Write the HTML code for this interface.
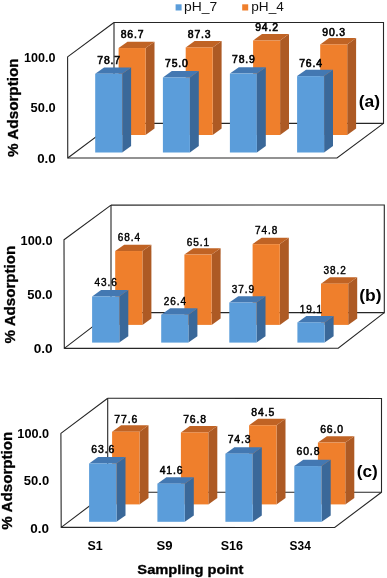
<!DOCTYPE html>
<html><head><meta charset="utf-8"><style>
html,body{margin:0;padding:0;background:#fff;}
body{width:387px;height:578px;overflow:hidden;}
svg{will-change:transform;display:block;font-family:"Liberation Sans",sans-serif;}
</style></head><body>
<svg width="387" height="578" viewBox="0 0 387 578">
<rect width="387" height="578" fill="#fff"/>
<polyline points="114,123.4 114,22.45" fill="none" stroke="#262626" stroke-width="1.1"/>
<polyline points="114,22.45 383.5,22.5 383.5,123.4 114,123.4" fill="none" stroke="#262626" stroke-width="1.1"/>
<polyline points="114,22.45 67.6,56.9 67.75,158 114,123.4" fill="none" stroke="#262626" stroke-width="1.1" stroke-linejoin="round"/>
<polyline points="67.75,158 337,158 383.5,123.4" fill="none" stroke="#262626" stroke-width="1.1"/>
<polygon points="145.6,48.04 154.5,41.64 154.5,128.6 145.6,135" fill="#ad5a24"/>
<polygon points="118.6,48.04 127.5,41.64 154.5,41.64 145.6,48.04" fill="#c06324"/>
<rect x="118.6" y="48.04" width="27" height="86.96" fill="#ef7f2c"/>
<polygon points="212.7,47.44 221.6,41.04 221.6,128.6 212.7,135" fill="#ad5a24"/>
<polygon points="185.7,47.44 194.6,41.04 221.6,41.04 212.7,47.44" fill="#c06324"/>
<rect x="185.7" y="47.44" width="27" height="87.56" fill="#ef7f2c"/>
<polygon points="280.1,40.52 289,34.12 289,128.6 280.1,135" fill="#ad5a24"/>
<polygon points="253.1,40.52 262,34.12 289,34.12 280.1,40.52" fill="#c06324"/>
<rect x="253.1" y="40.52" width="27" height="94.48" fill="#ef7f2c"/>
<polygon points="347.2,44.43 356.1,38.03 356.1,128.6 347.2,135" fill="#ad5a24"/>
<polygon points="320.2,44.43 329.1,38.03 356.1,38.03 347.2,44.43" fill="#c06324"/>
<rect x="320.2" y="44.43" width="27" height="90.57" fill="#ef7f2c"/>
<polygon points="122.2,73.8 131.1,67.4 131.1,146.1 122.2,152.5" fill="#3a6899"/>
<polygon points="95.2,73.8 104.1,67.4 131.1,67.4 122.2,73.8" fill="#4378b2"/>
<rect x="95.2" y="73.8" width="27" height="78.7" fill="#5b9dda"/>
<polygon points="189.9,77.5 198.8,71.1 198.8,146.1 189.9,152.5" fill="#3a6899"/>
<polygon points="162.9,77.5 171.8,71.1 198.8,71.1 189.9,77.5" fill="#4378b2"/>
<rect x="162.9" y="77.5" width="27" height="75" fill="#5b9dda"/>
<polygon points="256.9,73.6 265.8,67.2 265.8,146.1 256.9,152.5" fill="#3a6899"/>
<polygon points="229.9,73.6 238.8,67.2 265.8,67.2 256.9,73.6" fill="#4378b2"/>
<rect x="229.9" y="73.6" width="27" height="78.9" fill="#5b9dda"/>
<polygon points="324.1,76.1 333,69.7 333,146.1 324.1,152.5" fill="#3a6899"/>
<polygon points="297.1,76.1 306,69.7 333,69.7 324.1,76.1" fill="#4378b2"/>
<rect x="297.1" y="76.1" width="27" height="76.4" fill="#5b9dda"/>
<polyline points="111,312.6 111,205.1" fill="none" stroke="#262626" stroke-width="1.1"/>
<polyline points="111,205.1 384.3,205 384.3,312.6 111,312.6" fill="none" stroke="#262626" stroke-width="1.1"/>
<polyline points="111,205.1 64,239.8 64.3,348.4 111,312.6" fill="none" stroke="#262626" stroke-width="1.1" stroke-linejoin="round"/>
<polyline points="64.3,348.4 338.2,348.3 384.3,312.6" fill="none" stroke="#262626" stroke-width="1.1"/>
<polygon points="142.4,251.03 151.4,244.63 151.4,318.5 142.4,324.9" fill="#ad5a24"/>
<polygon points="115.2,251.03 124.2,244.63 151.4,244.63 142.4,251.03" fill="#c06324"/>
<rect x="115.2" y="251.03" width="27.2" height="73.87" fill="#ef7f2c"/>
<polygon points="211.6,254.59 220.6,248.19 220.6,318.5 211.6,324.9" fill="#ad5a24"/>
<polygon points="184.4,254.59 193.4,248.19 220.6,248.19 211.6,254.59" fill="#c06324"/>
<rect x="184.4" y="254.59" width="27.2" height="70.31" fill="#ef7f2c"/>
<polygon points="279.8,244.12 288.8,237.72 288.8,318.5 279.8,324.9" fill="#ad5a24"/>
<polygon points="252.6,244.12 261.6,237.72 288.8,237.72 279.8,244.12" fill="#c06324"/>
<rect x="252.6" y="244.12" width="27.2" height="80.78" fill="#ef7f2c"/>
<polygon points="348.2,283.64 357.2,277.24 357.2,318.5 348.2,324.9" fill="#ad5a24"/>
<polygon points="321,283.64 330,277.24 357.2,277.24 348.2,283.64" fill="#c06324"/>
<rect x="321" y="283.64" width="27.2" height="41.26" fill="#ef7f2c"/>
<polygon points="119.3,296.51 128.3,290.11 128.3,336.2 119.3,342.6" fill="#3a6899"/>
<polygon points="92.1,296.51 101.1,290.11 128.3,290.11 119.3,296.51" fill="#4378b2"/>
<rect x="92.1" y="296.51" width="27.2" height="46.09" fill="#5b9dda"/>
<polygon points="188.4,314.7 197.4,308.3 197.4,336.2 188.4,342.6" fill="#3a6899"/>
<polygon points="161.2,314.7 170.2,308.3 197.4,308.3 188.4,314.7" fill="#4378b2"/>
<rect x="161.2" y="314.7" width="27.2" height="27.9" fill="#5b9dda"/>
<polygon points="256.5,302.54 265.5,296.14 265.5,336.2 256.5,342.6" fill="#3a6899"/>
<polygon points="229.3,302.54 238.3,296.14 265.5,296.14 256.5,302.54" fill="#4378b2"/>
<rect x="229.3" y="302.54" width="27.2" height="40.06" fill="#5b9dda"/>
<polygon points="324.6,322.41 333.6,316.01 333.6,336.2 324.6,342.6" fill="#3a6899"/>
<polygon points="297.4,322.41 306.4,316.01 333.6,316.01 324.6,322.41" fill="#4378b2"/>
<rect x="297.4" y="322.41" width="27.2" height="20.19" fill="#5b9dda"/>
<polyline points="107.7,492.2 107.7,398.2" fill="none" stroke="#262626" stroke-width="1.1"/>
<polyline points="107.7,398.2 381.5,398.5 381.5,492.2 107.7,492.2" fill="none" stroke="#262626" stroke-width="1.1"/>
<polyline points="107.7,398.2 60.9,433.4 61.2,527.4 107.7,492.2" fill="none" stroke="#262626" stroke-width="1.1" stroke-linejoin="round"/>
<polyline points="61.2,527.4 334.7,527.5 381.5,492.2" fill="none" stroke="#262626" stroke-width="1.1"/>
<polygon points="139.5,431.69 148.5,425.29 148.5,498 139.5,504.4" fill="#ad5a24"/>
<polygon points="112.1,431.69 121.1,425.29 148.5,425.29 139.5,431.69" fill="#c06324"/>
<rect x="112.1" y="431.69" width="27.4" height="72.71" fill="#ef7f2c"/>
<polygon points="208.3,432.44 217.3,426.04 217.3,498 208.3,504.4" fill="#ad5a24"/>
<polygon points="180.9,432.44 189.9,426.04 217.3,426.04 208.3,432.44" fill="#c06324"/>
<rect x="180.9" y="432.44" width="27.4" height="71.96" fill="#ef7f2c"/>
<polygon points="276.5,425.22 285.5,418.82 285.5,498 276.5,504.4" fill="#ad5a24"/>
<polygon points="249.1,425.22 258.1,418.82 285.5,418.82 276.5,425.22" fill="#c06324"/>
<rect x="249.1" y="425.22" width="27.4" height="79.18" fill="#ef7f2c"/>
<polygon points="345.3,442.56 354.3,436.16 354.3,498 345.3,504.4" fill="#ad5a24"/>
<polygon points="317.9,442.56 326.9,436.16 354.3,436.16 345.3,442.56" fill="#c06324"/>
<rect x="317.9" y="442.56" width="27.4" height="61.84" fill="#ef7f2c"/>
<polygon points="116.5,463.48 125.5,457.08 125.5,515.4 116.5,521.8" fill="#3a6899"/>
<polygon points="89.1,463.48 98.1,457.08 125.5,457.08 116.5,463.48" fill="#4378b2"/>
<rect x="89.1" y="463.48" width="27.4" height="58.32" fill="#5b9dda"/>
<polygon points="184.8,483.65 193.8,477.25 193.8,515.4 184.8,521.8" fill="#3a6899"/>
<polygon points="157.4,483.65 166.4,477.25 193.8,477.25 184.8,483.65" fill="#4378b2"/>
<rect x="157.4" y="483.65" width="27.4" height="38.15" fill="#5b9dda"/>
<polygon points="252.8,453.67 261.8,447.27 261.8,515.4 252.8,521.8" fill="#3a6899"/>
<polygon points="225.4,453.67 234.4,447.27 261.8,447.27 252.8,453.67" fill="#4378b2"/>
<rect x="225.4" y="453.67" width="27.4" height="68.13" fill="#5b9dda"/>
<polygon points="321.7,466.05 330.7,459.65 330.7,515.4 321.7,521.8" fill="#3a6899"/>
<polygon points="294.3,466.05 303.3,459.65 330.7,459.65 321.7,466.05" fill="#4378b2"/>
<rect x="294.3" y="466.05" width="27.4" height="55.75" fill="#5b9dda"/>
<text x="120.7" y="37.7" letter-spacing="0.850" font-size="10.400" font-weight="normal" fill="#000" stroke="#000" stroke-width="0.6">86.7</text>
<text x="187.8" y="37.6" letter-spacing="0.850" font-size="10.400" font-weight="normal" fill="#000" stroke="#000" stroke-width="0.6">87.3</text>
<text x="255.2" y="31" letter-spacing="0.850" font-size="10.400" font-weight="normal" fill="#000" stroke="#000" stroke-width="0.6">94.2</text>
<text x="322.3" y="35.5" letter-spacing="0.850" font-size="10.400" font-weight="normal" fill="#000" stroke="#000" stroke-width="0.6">90.3</text>
<text x="97.3" y="63.5" letter-spacing="0.850" font-size="10.400" font-weight="normal" fill="#000" stroke="#000" stroke-width="0.6">78.7</text>
<text x="165" y="67.2" letter-spacing="0.850" font-size="10.400" font-weight="normal" fill="#000" stroke="#000" stroke-width="0.6">75.0</text>
<text x="232" y="63.4" letter-spacing="0.850" font-size="10.400" font-weight="normal" fill="#000" stroke="#000" stroke-width="0.6">78.9</text>
<text x="299.2" y="66.8" letter-spacing="0.850" font-size="10.400" font-weight="normal" fill="#000" stroke="#000" stroke-width="0.6">76.4</text>
<text x="117.64" y="241" letter-spacing="0.950" font-size="10.000" font-weight="normal" fill="#000" stroke="#000" stroke-width="0.4">68.4</text>
<text x="186.84" y="245.8" letter-spacing="0.950" font-size="10.000" font-weight="normal" fill="#000" stroke="#000" stroke-width="0.4">65.1</text>
<text x="255.04" y="234.3" letter-spacing="0.950" font-size="10.000" font-weight="normal" fill="#000" stroke="#000" stroke-width="0.4">74.8</text>
<text x="323.44" y="274.4" letter-spacing="0.950" font-size="10.000" font-weight="normal" fill="#000" stroke="#000" stroke-width="0.4">38.2</text>
<text x="94.54" y="286" letter-spacing="0.950" font-size="10.000" font-weight="normal" fill="#000" stroke="#000" stroke-width="0.4">43.6</text>
<text x="163.64" y="304.9" letter-spacing="0.950" font-size="10.000" font-weight="normal" fill="#000" stroke="#000" stroke-width="0.4">26.4</text>
<text x="231.74" y="292.9" letter-spacing="0.950" font-size="10.000" font-weight="normal" fill="#000" stroke="#000" stroke-width="0.4">37.9</text>
<text x="299.84" y="312.7" letter-spacing="0.950" font-size="10.000" font-weight="normal" fill="#000" stroke="#000" stroke-width="0.4">19.1</text>
<text x="114.33" y="422.5" letter-spacing="0.900" font-size="10.400" font-weight="normal" fill="#000" stroke="#000" stroke-width="0.5">77.6</text>
<text x="183.13" y="423.3" letter-spacing="0.900" font-size="10.400" font-weight="normal" fill="#000" stroke="#000" stroke-width="0.5">76.8</text>
<text x="251.33" y="415.6" letter-spacing="0.900" font-size="10.400" font-weight="normal" fill="#000" stroke="#000" stroke-width="0.5">84.5</text>
<text x="320.13" y="432.7" letter-spacing="0.900" font-size="10.400" font-weight="normal" fill="#000" stroke="#000" stroke-width="0.5">66.0</text>
<text x="91.33" y="453.3" letter-spacing="0.900" font-size="10.400" font-weight="normal" fill="#000" stroke="#000" stroke-width="0.5">63.6</text>
<text x="159.63" y="474.4" letter-spacing="0.900" font-size="10.400" font-weight="normal" fill="#000" stroke="#000" stroke-width="0.5">41.6</text>
<text x="227.63" y="443" letter-spacing="0.900" font-size="10.400" font-weight="normal" fill="#000" stroke="#000" stroke-width="0.5">74.3</text>
<text x="296.53" y="454.9" letter-spacing="0.900" font-size="10.400" font-weight="normal" fill="#000" stroke="#000" stroke-width="0.5">60.8</text>
<text transform="translate(24.11,62) scale(0.9974,1)" font-size="12.616" font-weight="bold" fill="#000">100.0</text>
<text transform="translate(30.61,112.2) scale(1.0547,1)" font-size="12.186" font-weight="bold" fill="#000">50.0</text>
<text transform="translate(37.17,162.8) scale(1.0649,1)" font-size="12.473" font-weight="bold" fill="#000">0.0</text>
<text transform="translate(20.6,245.3) scale(1.0341,1)" font-size="12.330" font-weight="bold" fill="#000">100.0</text>
<text transform="translate(27.21,299.3) scale(1.0679,1)" font-size="12.186" font-weight="bold" fill="#000">50.0</text>
<text transform="translate(33.66,352.8) scale(1.0770,1)" font-size="12.616" font-weight="bold" fill="#000">0.0</text>
<text transform="translate(17.31,438) scale(1.0307,1)" font-size="12.330" font-weight="bold" fill="#000">100.0</text>
<text transform="translate(23.81,485.4) scale(1.0679,1)" font-size="12.186" font-weight="bold" fill="#000">50.0</text>
<text transform="translate(30.36,532.9) scale(1.1087,1)" font-size="12.186" font-weight="bold" fill="#000">0.0</text>
<text transform="translate(358.73,106.86) scale(1.0855,1)" font-size="16.086" font-weight="bold" fill="#000">(a)</text>
<text transform="translate(359.13,300.61) scale(1.1023,1)" font-size="15.871" font-weight="bold" fill="#000">(b)</text>
<text transform="translate(356.74,477.28) scale(1.0816,1)" font-size="15.979" font-weight="bold" fill="#000">(c)</text>
<text transform="translate(18,156.88) rotate(-90) scale(1.1056,1)" font-size="13.800" font-weight="bold" fill="#000" stroke="#000" stroke-width="0.3">% Adsorption</text>
<text transform="translate(14.7,343.38) rotate(-90) scale(1.0953,1)" font-size="13.800" font-weight="bold" fill="#000" stroke="#000" stroke-width="0.3">% Adsorption</text>
<text transform="translate(11.8,529.68) rotate(-90) scale(1.0999,1)" font-size="13.800" font-weight="bold" fill="#000" stroke="#000" stroke-width="0.3">% Adsorption</text>
<text transform="translate(87.43,549.5) scale(1.0335,1)" font-size="12.043" font-weight="bold" fill="#000">S1</text>
<text transform="translate(156.51,549.5) scale(1.0904,1)" font-size="12.043" font-weight="bold" fill="#000">S9</text>
<text transform="translate(220.72,549.5) scale(1.0425,1)" font-size="12.043" font-weight="bold" fill="#000">S16</text>
<text transform="translate(289.54,549.5) scale(0.9912,1)" font-size="12.043" font-weight="bold" fill="#000">S34</text>
<text transform="translate(137.36,573.6) scale(1.1568,1)" font-size="12.690" font-weight="bold" fill="#000" stroke="#000" stroke-width="0.3">Sampling point</text>
<rect x="175.6" y="4.3" width="6" height="6.2" fill="#5b9dda"/>
<rect x="242.2" y="4.3" width="6" height="6.2" fill="#ef7f2c"/>
<text transform="translate(184,11.2) scale(1.0730,1)" font-size="12.945" font-weight="normal" fill="#111">pH_7</text>
<text transform="translate(251.31,11.2) scale(1.0524,1)" font-size="12.945" font-weight="normal" fill="#111">pH_4</text>
</svg>
</body></html>
